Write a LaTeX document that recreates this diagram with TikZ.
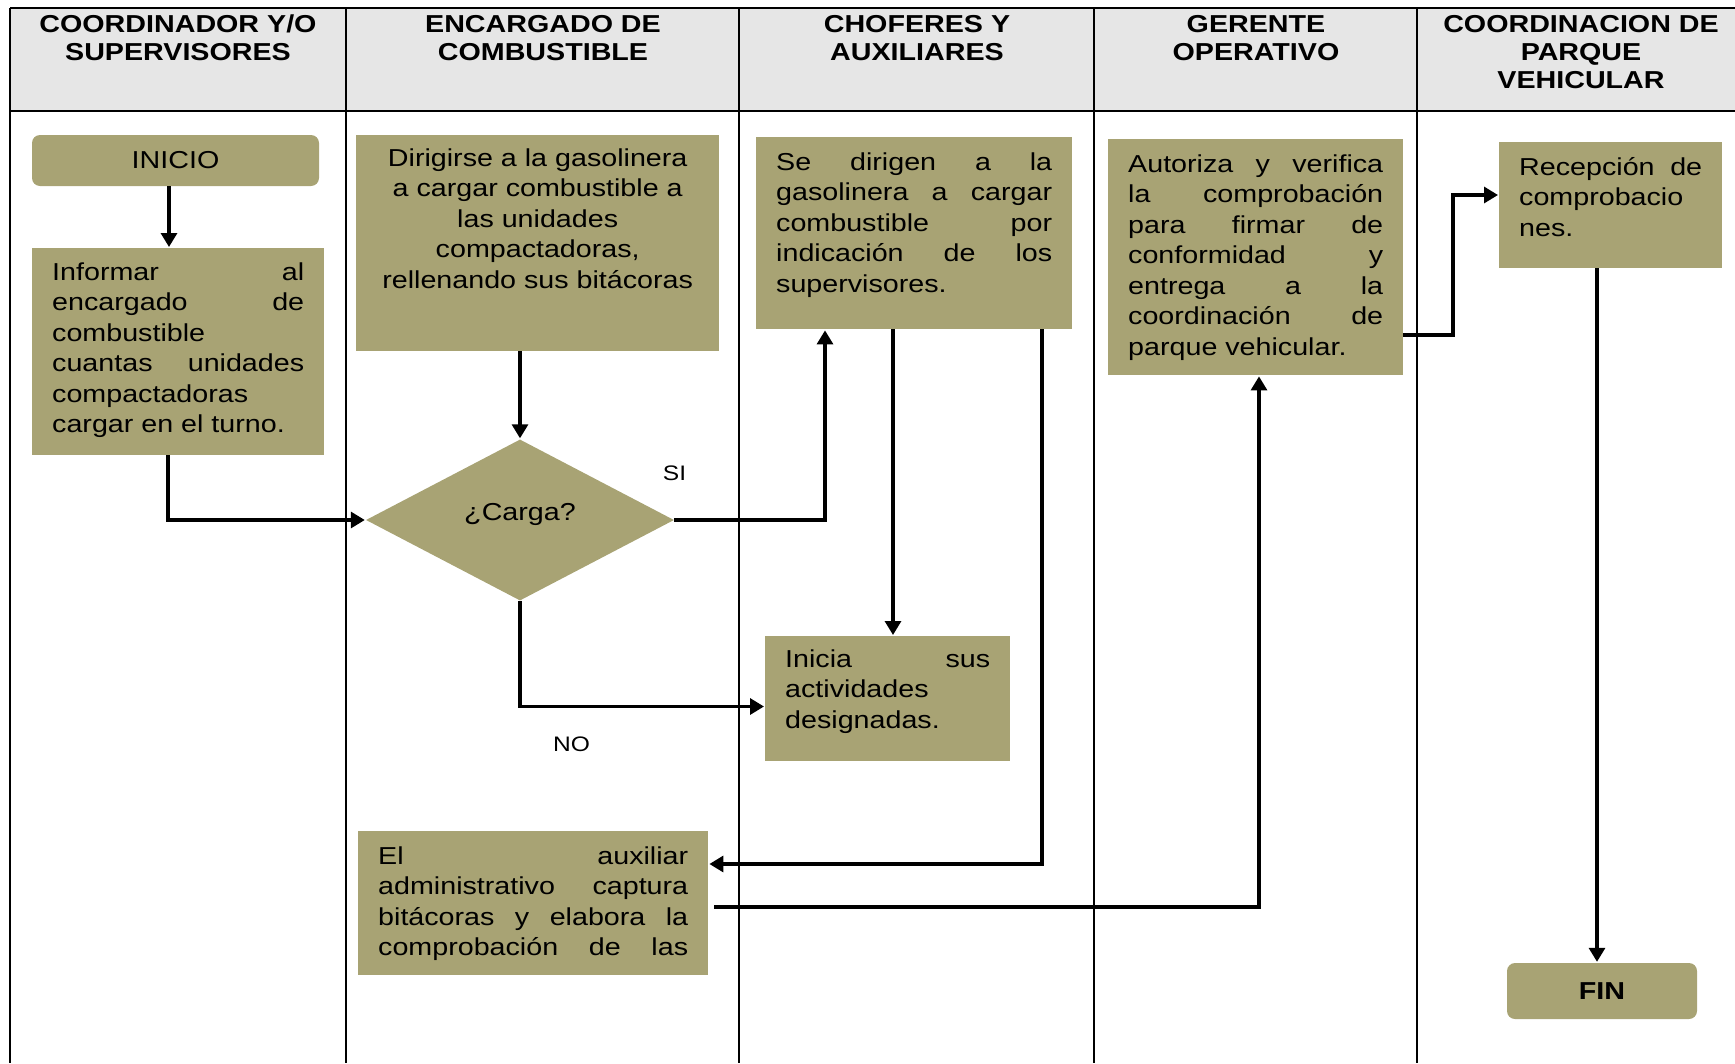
\documentclass[tikz,border=0pt]{standalone}
\usepackage{fontspec}
\newfontfamily\bodyfont[FakeStretch=1.17]{Liberation Sans}
\usetikzlibrary{shapes.geometric,arrows.meta}
\definecolor{boxc}{RGB}{168,163,116}
\definecolor{headc}{RGB}{230,230,230}
\newcommand\jl[1]{\makebox[\linewidth][s]{#1}}
\newcommand\boxtext[5]{\parbox[c][#2][t]{#1}{#4\rule{0pt}{#3}#5}}
\tikzset{
  proc/.style={fill=boxc, inner xsep=20pt, inner ysep=0pt, anchor=north west,
    font=\bodyfont\fontsize{24.5pt}{30.5pt}\selectfont},
  term/.style={fill=boxc, rounded corners=8pt, inner sep=0pt,
    font=\bodyfont\fontsize{24.5pt}{30.5pt}\selectfont},
  dec/.style={diamond, fill=boxc, aspect=1.913, minimum width=308pt, minimum height=161pt,
    inner sep=0pt, font=\bodyfont\fontsize{24.5pt}{30.5pt}\selectfont},
  head/.style={anchor=base, inner sep=0pt, font=\bodyfont\bfseries\fontsize{24.5pt}{28pt}\selectfont},
  lbl/.style={anchor=base, inner sep=0pt, font=\bodyfont\fontsize{21pt}{24pt}\selectfont},
  arr/.style={line width=3.2pt, -{Triangle[length=14pt,width=16pt]}, shorten >=1pt},
  lane/.style={line width=1.6pt},
  border/.style={line width=2.2pt}
}
\begin{document}
\begin{tikzpicture}[x=1pt,y=-1pt]
\useasboundingbox (0,0) rectangle (1735,1063);
% header and lanes
\fill[headc] (10,8) rectangle (1735,111);
\draw[border] (10,8) -- (1735,8);
\draw[border] (10,8) -- (10,1063);
\draw[border] (10,111) -- (1735,111);
\foreach \xx in {346,739,1094,1417} \draw[lane] (\xx,8) -- (\xx,1063);
\node[head] (h1) at (178,32) {\parbox[t]{320pt}{\centering COORDINADOR Y/O\\SUPERVISORES}};
\node[head] (h2) at (543,32) {\parbox[t]{380pt}{\centering ENCARGADO DE\\COMBUSTIBLE}};
\node[head] (h3) at (917,32) {\parbox[t]{340pt}{\centering CHOFERES Y\\AUXILIARES}};
\node[head] (h4) at (1256,32) {\parbox[t]{310pt}{\centering GERENTE\\OPERATIVO}};
\node[head] (h5) at (1581,32) {\parbox[t]{320pt}{\centering COORDINACION DE\\PARQUE\\VEHICULAR}};
% nodes
\node[term, minimum width=287pt, minimum height=51pt] (inicio) at (175.5,160.5) {INICIO};
\node[proc] (informar) at (32,248) {\boxtext{252pt}{207pt}{32pt}{}{\jl{Informar al}\\\jl{encargado de}\\combustible\\\jl{cuantas unidades}\\compactadoras\\cargar en el turno.}};
\node[proc] (dirigirse) at (356,135) {\boxtext{323pt}{216pt}{31pt}{\centering}{Dirigirse a la gasolinera\\a cargar combustible a\\las unidades\\compactadoras,\\rellenando sus bitácoras}};
\node[dec] (carga) at (520,520) {\smash{¿Carga?}};
\node[proc] (sedirigen) at (756,137) {\boxtext{276pt}{192pt}{33pt}{}{\jl{Se dirigen a la}\\\jl{gasolinera a cargar}\\\jl{combustible por}\\\jl{indicación de los}\\supervisores.}};
\node[proc] (inicia) at (765,636) {\boxtext{205pt}{125pt}{31pt}{}{\jl{Inicia sus}\\actividades\\designadas.}};
\node[proc] (auxiliar) at (358,831) {\boxtext{310pt}{144pt}{33pt}{}{\jl{El auxiliar}\\\jl{administrativo captura}\\\jl{bitácoras y elabora la}\\\jl{comprobación de las}}};
\node[proc] (autoriza) at (1108,139) {\boxtext{255pt}{236pt}{33pt}{}{\jl{Autoriza y verifica}\\\jl{la comprobación}\\\jl{para firmar de}\\\jl{conformidad y}\\\jl{entrega a la}\\\jl{coordinación de}\\parque vehicular.}};
\node[proc] (recepcion) at (1499,142) {\boxtext{183pt}{126pt}{33pt}{}{\jl{Recepción de}\\comprobacio\\nes.}};
\node[term, minimum width=190pt, minimum height=56pt, font=\bodyfont\bfseries\fontsize{24.5pt}{30.5pt}\selectfont] (fin) at (1602,991) {FIN};
% labels
\node[lbl] (si) at (674.5,480) {SI};
\node[lbl] (no) at (571.5,751.7) {NO};
% helper coordinates
\coordinate (xa) at (169,0);
\coordinate (xb) at (168,0);
\coordinate (xsi) at (825,0);
\coordinate (ynot) at (0,706.5);
\coordinate (xc) at (893,0);
\coordinate (xd) at (1042,0);
\coordinate (ye) at (0,864);
\coordinate (yf) at (0,907);
\coordinate (xf) at (1259,0);
\coordinate (xstart) at (714,0);
\coordinate (yg) at (0,335);
\coordinate (xg) at (1453,0);
\coordinate (yh) at (0,195);
\coordinate (xi) at (1597,0);
% connectors
\draw[arr] (inicio.south -| xa) -- (informar.north -| xa);
\draw[arr] (informar.south -| xb) |- (carga.west);
\draw[arr] (dirigirse.south -| carga.north) -- (carga.north);
\draw[arr] (carga.east) -| (sedirigen.south -| xsi);
\draw[arr] (carga.south) |- (inicia.west |- ynot);
\draw[arr] (sedirigen.south -| xc) -- (inicia.north -| xc);
\draw[arr] (sedirigen.south -| xd) |- (auxiliar.east |- ye);
\draw[arr] (xstart |- yf) -| (autoriza.south -| xf);
\draw[arr] (autoriza.east |- yg) -| (xg |- yh) -- (recepcion.west |- yh);
\draw[arr] (recepcion.south -| xi) -- (fin.north -| xi);
\end{tikzpicture}
\end{document}
